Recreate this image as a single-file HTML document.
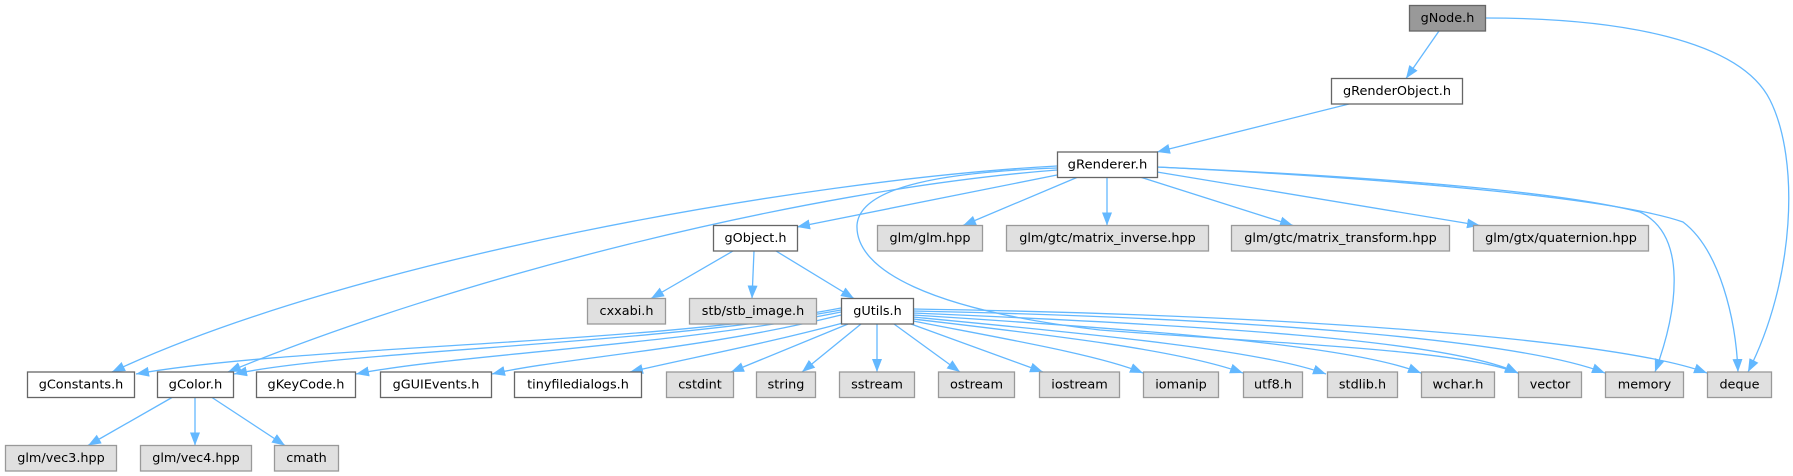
<!DOCTYPE html>
<html>
<head>
<meta charset="utf-8">
<style>
html,body{margin:0;padding:0;background:#fff;}
svg{display:block;}
text{font-family:"DejaVu Sans","Liberation Sans",sans-serif;font-size:12.8px;fill:#000;text-anchor:middle;}
.e{fill:none;stroke:#63b8ff;stroke-width:1.3;marker-end:url(#ah);}
.w{fill:#fff;stroke:#666;stroke-width:1.3;}
.g{fill:#e0e0e0;stroke:#999;stroke-width:1.3;}
.r{fill:#999;stroke:#666;stroke-width:1.3;}
</style>
</head>
<body>
<svg width="1793" height="476" viewBox="0 0 1793 476" xmlns="http://www.w3.org/2000/svg">
<defs>
<marker id="ah" markerUnits="userSpaceOnUse" markerWidth="14" markerHeight="11" refX="13" refY="5.5" orient="auto">
<path d="M0,0.5 L13,5.5 L0,10.5 Z" fill="#63b8ff"/>
</marker>
</defs>

<!-- edges -->
<path class="e" d="M1439,31 L1406,78.5"/>
<path class="e" d="M1485,18 C1620,18 1740,40 1770,100 C1800,160 1795,280 1748,372"/>
<path class="e" d="M1349,104 L1157,152"/>
<path class="e" d="M1057,175 L797,227"/>
<path class="e" d="M1078,177 L963,225.5"/>
<path class="e" d="M1107,177 L1107,225.5"/>
<path class="e" d="M1140,177 L1293,225.5"/>
<path class="e" d="M1157,172 L1480,225.5"/>
<path class="e" d="M1157,167 C1400,178 1560,192 1640,212 C1688,235 1678,310 1655,372"/>
<path class="e" d="M1157,167 C1420,180 1620,200 1683,222 C1720,250 1736,320 1738,372"/>
<path class="e" d="M1057,168 C950,172 860,185 857,225 C855,270 930,310 1100,330 C1300,345 1460,350 1518,373"/>
<path class="e" d="M1057,166 C800,180 350,260 112,372"/>
<path class="e" d="M1057,170 C800,190 450,280 228,372"/>

<path class="e" d="M733,251 L651,298.5"/>
<path class="e" d="M754,251 L752,298.5"/>
<path class="e" d="M776,251 L854,298.5"/>

<path class="e" d="M841,308 C650,345 300,345 136,374"/>
<path class="e" d="M841,310 C650,345 350,350 234,374"/>
<path class="e" d="M841,312 C680,345 450,355 356,374"/>
<path class="e" d="M841,315 C700,350 560,358 492,374"/>
<path class="e" d="M843,323 C760,345 680,360 630,372"/>
<path class="e" d="M848,324 L731,372"/>
<path class="e" d="M861,324 L802,372"/>
<path class="e" d="M877,324 L877,372"/>
<path class="e" d="M894,324 L960,372"/>
<path class="e" d="M911,324 L1043,372"/>
<path class="e" d="M913,321 C1000,338 1100,355 1143,373"/>
<path class="e" d="M913,319 C1050,335 1180,350 1243,373"/>
<path class="e" d="M913,317 C1100,335 1260,350 1326,374"/>
<path class="e" d="M913,315 C1150,330 1350,345 1421,373"/>
<path class="e" d="M913,313 C1200,325 1450,340 1518,373"/>
<path class="e" d="M913,311 C1250,318 1520,340 1605,373"/>
<path class="e" d="M913,309 C1300,315 1620,340 1707,373"/>

<path class="e" d="M172,397.5 L88,445.5"/>
<path class="e" d="M195,397.5 L195,445.5"/>
<path class="e" d="M212,397.5 L285,445.5"/>

<!-- row 0 -->
<rect class="r" x="1409.5" y="5.5" width="76" height="25.5"/><text x="1447.5" y="22" textLength="53.7" lengthAdjust="spacingAndGlyphs">gNode.h</text>
<!-- row 1 -->
<rect class="w" x="1331.5" y="78.5" width="131" height="25.5"/><text x="1397" y="95" textLength="108" lengthAdjust="spacingAndGlyphs">gRenderObject.h</text>
<!-- row 2 -->
<rect class="w" x="1057.5" y="152" width="100" height="25.5"/><text x="1107.5" y="168.5" textLength="79.6" lengthAdjust="spacingAndGlyphs">gRenderer.h</text>
<!-- row 3 -->
<rect class="w" x="713.5" y="225.5" width="84" height="25.5"/><text x="755.5" y="242" textLength="62" lengthAdjust="spacingAndGlyphs">gObject.h</text>
<rect class="g" x="877.5" y="225.5" width="105" height="25.5"/><text x="930" y="242" textLength="81" lengthAdjust="spacingAndGlyphs">glm/glm.hpp</text>
<rect class="g" x="1006.5" y="225.5" width="202" height="25.5"/><text x="1107.5" y="242" textLength="176.5" lengthAdjust="spacingAndGlyphs">glm/gtc/matrix_inverse.hpp</text>
<rect class="g" x="1231.5" y="225.5" width="218" height="25.5"/><text x="1340.5" y="242" textLength="192.5" lengthAdjust="spacingAndGlyphs">glm/gtc/matrix_transform.hpp</text>
<rect class="g" x="1473.5" y="225.5" width="175" height="25.5"/><text x="1561" y="242" textLength="151.8" lengthAdjust="spacingAndGlyphs">glm/gtx/quaternion.hpp</text>
<!-- row 4 -->
<rect class="g" x="587.5" y="298.5" width="78" height="25.5"/><text x="626.5" y="315" textLength="53.9" lengthAdjust="spacingAndGlyphs">cxxabi.h</text>
<rect class="g" x="689.5" y="298.5" width="127" height="25.5"/><text x="753" y="315" textLength="102.4" lengthAdjust="spacingAndGlyphs">stb/stb_image.h</text>
<rect class="w" x="841.5" y="298.5" width="72" height="25.5"/><text x="877.5" y="315" textLength="48.5" lengthAdjust="spacingAndGlyphs">gUtils.h</text>
<!-- row 5 -->
<rect class="w" x="27.5" y="372" width="107" height="25.5"/><text x="81" y="388.5" textLength="84.5" lengthAdjust="spacingAndGlyphs">gConstants.h</text>
<rect class="w" x="157.5" y="372" width="76" height="25.5"/><text x="195.5" y="388.5" textLength="53.7" lengthAdjust="spacingAndGlyphs">gColor.h</text>
<rect class="w" x="256.5" y="372" width="99" height="25.5"/><text x="306" y="388.5" textLength="76.9" lengthAdjust="spacingAndGlyphs">gKeyCode.h</text>
<rect class="w" x="380.5" y="372" width="111" height="25.5"/><text x="436" y="388.5" textLength="86.7" lengthAdjust="spacingAndGlyphs">gGUIEvents.h</text>
<rect class="w" x="514.5" y="372" width="127" height="25.5"/><text x="578" y="388.5" textLength="101.7" lengthAdjust="spacingAndGlyphs">tinyfiledialogs.h</text>
<rect class="g" x="666.5" y="372" width="67" height="25.5"/><text x="700" y="388.5" textLength="43.5" lengthAdjust="spacingAndGlyphs">cstdint</text>
<rect class="g" x="756.5" y="372" width="59" height="25.5"/><text x="786" y="388.5" textLength="36.7" lengthAdjust="spacingAndGlyphs">string</text>
<rect class="g" x="839.5" y="372" width="75" height="25.5"/><text x="877" y="388.5" textLength="51.8" lengthAdjust="spacingAndGlyphs">sstream</text>
<rect class="g" x="938.5" y="372" width="76" height="25.5"/><text x="976.5" y="388.5" textLength="53" lengthAdjust="spacingAndGlyphs">ostream</text>
<rect class="g" x="1039.5" y="372" width="80" height="25.5"/><text x="1079.5" y="388.5" textLength="56.5" lengthAdjust="spacingAndGlyphs">iostream</text>
<rect class="g" x="1143.5" y="372" width="75" height="25.5"/><text x="1181" y="388.5" textLength="51.5" lengthAdjust="spacingAndGlyphs">iomanip</text>
<rect class="g" x="1243.5" y="372" width="59" height="25.5"/><text x="1273" y="388.5" textLength="38" lengthAdjust="spacingAndGlyphs">utf8.h</text>
<rect class="g" x="1327.5" y="372" width="70" height="25.5"/><text x="1362.5" y="388.5" textLength="47.2" lengthAdjust="spacingAndGlyphs">stdlib.h</text>
<rect class="g" x="1421.5" y="372" width="73" height="25.5"/><text x="1458" y="388.5" textLength="50.9" lengthAdjust="spacingAndGlyphs">wchar.h</text>
<rect class="g" x="1518.5" y="372" width="63" height="25.5"/><text x="1550" y="388.5" textLength="40.6" lengthAdjust="spacingAndGlyphs">vector</text>
<rect class="g" x="1605.5" y="372" width="78" height="25.5"/><text x="1644.5" y="388.5" textLength="53.5" lengthAdjust="spacingAndGlyphs">memory</text>
<rect class="g" x="1707.5" y="372" width="64" height="25.5"/><text x="1739.5" y="388.5" textLength="40.1" lengthAdjust="spacingAndGlyphs">deque</text>
<!-- row 6 -->
<rect class="g" x="5.5" y="445.5" width="111" height="25.5"/><text x="61" y="462" textLength="87.5" lengthAdjust="spacingAndGlyphs">glm/vec3.hpp</text>
<rect class="g" x="140.5" y="445.5" width="111" height="25.5"/><text x="196" y="462" textLength="87.5" lengthAdjust="spacingAndGlyphs">glm/vec4.hpp</text>
<rect class="g" x="274.5" y="445.5" width="64" height="25.5"/><text x="306.5" y="462" textLength="40.5" lengthAdjust="spacingAndGlyphs">cmath</text>
</svg>
</body>
</html>
